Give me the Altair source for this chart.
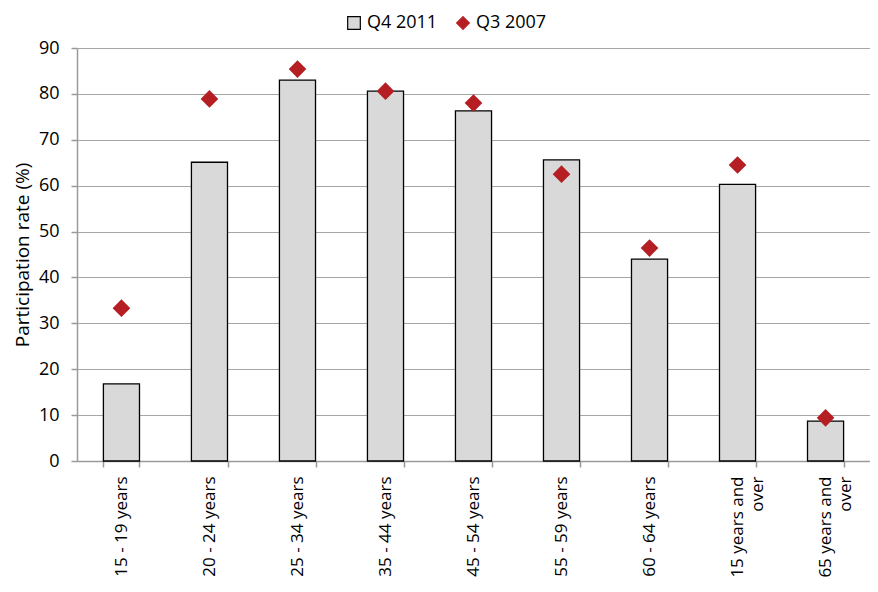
import altair as alt
import pandas as pd

categories = ["15 - 19 years", "20 - 24 years", "25 - 34 years", "35 - 44 years",
              "45 - 54 years", "55 - 59 years", "60 - 64 years",
              "15 years and over", "65 years and over"]
q4_2011 = [16.8, 65.1, 83.0, 80.6, 76.3, 65.6, 44.0, 60.3, 8.7]
q3_2007 = [33.3, 78.9, 85.4, 80.6, 78.0, 62.5, 46.4, 64.5, 9.4]
series = ["Q4 2011", "Q3 2007"]

rows = []
for c, v in zip(categories, q4_2011):
    rows.append({"cat": c, "value": v, "series": series[0]})
for c, v in zip(categories, q3_2007):
    rows.append({"cat": c, "value": v, "series": series[1]})
df = pd.DataFrame(rows)

FONT = "Open Sans"
GRAY = "#9a9a9a"

x = alt.X("cat:N", sort=categories, title=None,
          scale=alt.Scale(paddingInner=0.59, paddingOuter=0.3),
          axis=alt.Axis(labelAngle=270, labelAlign="right", labelBaseline="middle",
                        labelFontSize=17, labelColor="black", labelPadding=9,
                        labelExpr="indexof(datum.label, ' and over') > 0 ? [replace(datum.label, ' over', ''), 'over'] : datum.label",
                        tickBand="extent", tickSize=6, tickColor=GRAY, tickWidth=1.5,
                        domainColor=GRAY, domainWidth=1.5, grid=False, labelLineHeight=20))
y = alt.Y("value:Q", title="Participation rate (%)",
          scale=alt.Scale(domain=[0, 90], nice=False),
          axis=alt.Axis(values=list(range(0, 91, 10)), labelFontSize=18, labelColor="black",
                        labelPadding=12,
                        titleFontSize=19, titleFontWeight="normal", titleColor="black",
                        titlePadding=6, tickSize=6, tickColor=GRAY, tickWidth=1.5,
                        domainColor=GRAY, domainWidth=1.5, gridColor="#a6a6a6",
                        gridWidth=1.2, grid=True))

fill = alt.Fill("series:N", scale=alt.Scale(domain=series, range=["#d9d9d9", "#b51f24"]),
                legend=alt.Legend(title=None, orient="none", direction="horizontal",
                                  legendX=268, legendY=-34,
                                  labelFontSize=18, labelColor="black", symbolSize=160,
                                  columnPadding=16, labelOffset=4, symbolStrokeWidth=1.2))
stroke = alt.Stroke("series:N", scale=alt.Scale(domain=series, range=["black", "#b51f24"]))
shape = alt.Shape("series:N", scale=alt.Scale(domain=series, range=["square", "diamond"]))

bars = alt.Chart(df).transform_filter(alt.datum.series == series[0]).mark_bar(
    strokeWidth=1.3).encode(x=x, y=y, fill=fill, stroke=stroke)

points = alt.Chart(df).transform_filter(alt.datum.series == series[1]).mark_point(
    filled=True, size=220, opacity=1).encode(x=x, y=y, fill=fill, stroke=stroke, shape=shape)

chart = alt.layer(bars, points).properties(
    width=793, height=413,
    autosize=alt.AutoSizeParams(type="none"),
    padding={"left": 69, "top": 40, "right": 0, "bottom": 122},
).configure(font=FONT).configure_view(stroke=None)

chart.save("out.html", embed_options={"renderer": "svg", "actions": False})
